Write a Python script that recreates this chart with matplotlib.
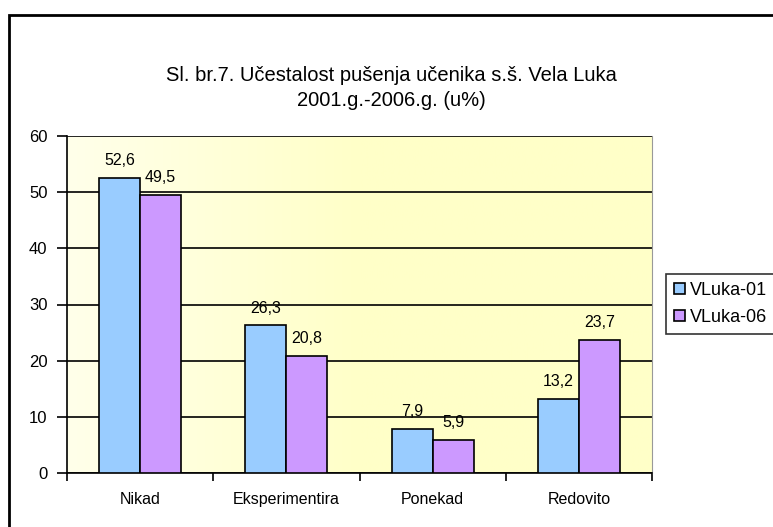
import numpy as np
import matplotlib
matplotlib.use("Agg")
import matplotlib.pyplot as plt
from matplotlib.patches import Rectangle
from matplotlib.colors import LinearSegmentedColormap

# podaci
kategorije = ["Nikad", "Eksperimentira", "Ponekad", "Redovito"]
vluka_01 = [52.6, 26.3, 7.9, 13.2]
vluka_06 = [49.5, 20.8, 5.9, 23.7]
serije = ["VLuka-01", "VLuka-06"]

plt.rcParams['font.family'] = ['Liberation Sans', 'DejaVu Sans']

fig = plt.figure(figsize=(7.73, 5.27), dpi=100)
ax = fig.add_axes([67/773, 54/527, 585/773, 337/527])

# pozadina s blagim prijelazom
cmap = LinearSegmentedColormap.from_list("bg", ["#FFFFEA", "#FFFFC8", "#FFFFC8"])
grad = np.linspace(0, 1, 256).reshape(1, -1)
ax.imshow(grad, cmap=cmap, aspect='auto', extent=(-0.5, 3.5, 0, 60), zorder=0)

x = np.arange(len(kategorije))
w = 0.28
b1 = ax.bar(x - w/2, vluka_01, w, color="#99CCFF", edgecolor="black", linewidth=1.2,
            label=serije[0], zorder=3)
b2 = ax.bar(x + w/2, vluka_06, w, color="#CC99FF", edgecolor="black", linewidth=1.2,
            label=serije[1], zorder=3)

for bars in (b1, b2):
    for r in bars:
        v = r.get_height()
        ax.annotate(f"{v:.1f}".replace(".", ","),
                    (r.get_x() + r.get_width()/2, v), xytext=(0, 7),
                    textcoords="offset points", ha="center", va="bottom",
                    fontsize=11.5, zorder=4)

ax.set_xlim(-0.5, 3.5)
ax.set_ylim(0, 60)
ax.set_yticks(range(0, 61, 10))
ax.yaxis.grid(True, color="black", linewidth=1.2, zorder=1)
ax.set_axisbelow(True)

ax.set_xticks(x)
ax.set_xticklabels(kategorije, fontsize=11.5)
ax.tick_params(axis='x', length=0, pad=14)
ax.set_xticks(np.arange(-0.5, 4.0, 1.0), minor=True)
ax.tick_params(axis='x', which='minor', length=6, width=1.2, direction='out')
ax.tick_params(axis='y', length=7, width=1.2, labelsize=12, pad=7)

ax.spines["top"].set_visible(False)
ax.spines["right"].set_color("#999999")
ax.spines["right"].set_linewidth(0.8)
ax.spines["left"].set_linewidth(1.2)
ax.spines["bottom"].set_linewidth(1.2)

fig.text(391/773, 1 - 88/527,
         "Sl. br.7. Učestalost pušenja učenika s.š. Vela Luka\n2001.g.-2006.g. (u%)",
         ha="center", va="center", fontsize=14.5, linespacing=1.4)

leg = fig.legend(handles=[b1, b2], loc="upper left",
                 bbox_to_anchor=(666/773, 1 - 274/527), borderaxespad=0,
                 fontsize=13, frameon=True, fancybox=False, edgecolor="black",
                 handlelength=0.6, handleheight=0.6, handletextpad=0.3,
                 borderpad=0.45, labelspacing=0.55)
leg.get_frame().set_linewidth(1.2)

# okvir grafikona
fig.patches.append(Rectangle((9/773, -0.1), 1.2, 1.1 - 15/527,
                             transform=fig.transFigure, fill=False,
                             edgecolor="black", linewidth=2))

fig.savefig("out.png", dpi=100, facecolor="white")
